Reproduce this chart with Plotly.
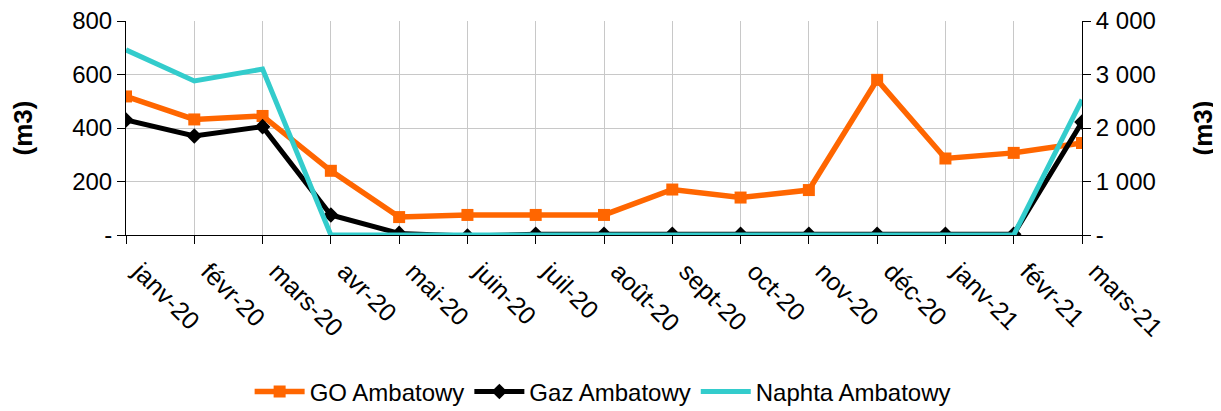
import plotly.graph_objects as go

months = ["janv-20", "févr-20", "mars-20", "avr-20", "mai-20", "juin-20", "juil-20",
          "août-20", "sept-20", "oct-20", "nov-20", "déc-20", "janv-21", "févr-21", "mars-21"]
go_ambatovy = [518, 432, 445, 240, 67, 75, 75, 75, 170, 140, 168, 580, 286, 307, 344]
gaz_ambatovy = [430, 370, 405, 75, 6, -4, 3, 3, 3, 3, 3, 3, 3, 3, 422]
naphta_ambatovy = [3460, 2880, 3100, 0, 0, 0, 0, 0, 0, 0, 0, 0, 0, 0, 2530]

left_ticks = [0, 200, 400, 600, 800]
left_text = ["-", "200", "400", "600", "800"]
right_ticks = [0, 1000, 2000, 3000, 4000]
right_text = ["-", "1 000", "2 000", "3 000", "4 000"]

FONT = "Liberation Sans, Arial, sans-serif"

fig = go.Figure()
fig.add_trace(go.Scatter(x=months, y=go_ambatovy, name="GO Ambatowy", mode="lines+markers",
                         line=dict(color="#FF6600", width=5.5),
                         marker=dict(symbol="square", size=12, color="#FF6600")))
fig.add_trace(go.Scatter(x=months, y=gaz_ambatovy, name="Gaz Ambatowy", mode="lines+markers",
                         line=dict(color="#000000", width=5),
                         marker=dict(symbol="diamond", size=12, color="#000000")))
fig.add_trace(go.Scatter(x=months, y=naphta_ambatovy, name="Naphta Ambatowy", mode="lines",
                         line=dict(color="#33CCCC", width=5), yaxis="y2"))

common_line = dict(showline=True, linecolor="black", linewidth=1, tickcolor="black",
                   zeroline=False, automargin=False)

fig.update_layout(
    width=1221, height=411,
    margin=dict(l=118, r=147, t=13, b=184),
    paper_bgcolor="white", plot_bgcolor="white",
    font=dict(family=FONT, size=24, color="black"),
    showlegend=True,
    legend=dict(orientation="h", x=0.487, xanchor="center", xref="container",
                y=0.066, yanchor="middle", yref="container",
                font=dict(size=24), itemwidth=50, tracegroupgap=0),
    xaxis=dict(type="category", range=[0, 14], showgrid=True, gridcolor="#c8c8c8", gridwidth=1,
               ticks="outside", ticklen=8, tickangle=45, tickfont=dict(size=25),
               ticklabelshift=14, ticklabelstandoff=3, **common_line),
    yaxis=dict(range=[0, 800], tickvals=left_ticks, ticktext=left_text, showgrid=True,
               gridcolor="#c8c8c8", gridwidth=1, ticks="outside", ticklen=8,
               ticklabeloverflow="allow", **common_line,
               title=dict(text="<b>(m3)</b>", font=dict(size=26), standoff=40)),
    yaxis2=dict(range=[0, 4000], tickvals=right_ticks, ticktext=right_text, overlaying="y",
                side="right", showgrid=False, ticks="outside", ticklen=8,
                ticklabeloverflow="allow", **common_line,
                title=dict(text="<b>(m3)</b>", font=dict(size=26), standoff=38)),
    # inner halves of the crossing tick marks
    xaxis2=dict(overlaying="x", anchor="y", range=[0, 14], dtick=1, showticklabels=False,
                showgrid=False, ticks="inside", ticklen=5, side="bottom", **common_line),
    yaxis3=dict(overlaying="y", anchor="x", range=[0, 800], dtick=200, showticklabels=False,
                showgrid=False, ticks="inside", ticklen=7, side="left", **common_line),
    yaxis4=dict(overlaying="y", anchor="x", range=[0, 4000], dtick=1000, showticklabels=False,
                showgrid=False, ticks="inside", ticklen=7, side="right", **common_line),
)

fig.write_html("out.html")
